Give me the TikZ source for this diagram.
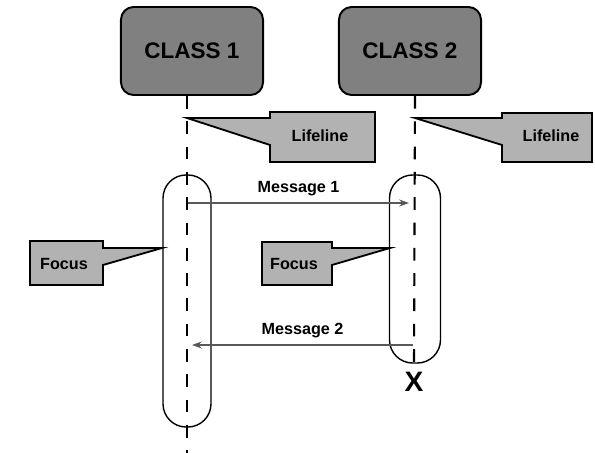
\documentclass[tikz,border=0pt]{standalone}
\usepackage{fontspec}
\setmainfont{Liberation Sans}
\usetikzlibrary{arrows.meta}

\begin{document}
\begin{tikzpicture}[>=Stealth, x=0.025cm, y=-0.025cm,
    classbox/.style={draw, line width=1.4pt, fill=black!50, rounded corners=9pt, minimum width=3.55cm, minimum height=2.2cm, font=\fontsize{16}{18}\selectfont\bfseries},
    focusbar/.style={draw, line width=1pt, rounded corners=0.58cm},
    lifeline/.style={line width=1.5pt, dash pattern=on 9pt off 9pt},
    callout/.style={draw, line width=1.3pt, fill=black!30, line join=miter},
    tag/.style={font=\fontsize{11.5}{13}\selectfont\bfseries},
    msg/.style={-{Stealth[length=7pt, width=5pt]}, draw=black!65, line width=0.8pt}]
    \useasboundingbox (0,0) rectangle (595,453);
    \node [classbox] (classA) at (192, 51) {CLASS 1};
    \node [classbox] (classB) at (410, 51) {CLASS 2};
    \node [focusbar, minimum width=1.2cm, minimum height=6.3cm] (focusA) at (187, 301) {};
    \node [focusbar, minimum width=1.275cm, minimum height=4.7cm] (focusB) at (415, 269) {};
    \node [font=\fontsize{20}{20}\selectfont\bfseries] (stop) at (414, 382) {X};
    \coordinate (endA) at (187, 453);
    % lifelines
    \draw [lifeline] (focusA |- classA.south) -- (endA);
    \draw [lifeline] (focusB |- classB.south) -- (stop.north);
    % messages
    \coordinate (m1a) at (188, 203);
    \coordinate (m1b) at (409, 203);
    \coordinate (m2a) at (413, 345);
    \coordinate (m2b) at (192, 345);
    \draw [msg] (m1a) -- node [tag, above=1pt] {Message 1} (m1b);
    \draw [msg] (m2a) -- node [tag, above=1pt] {Message 2} (m2b);
    % callouts
    \filldraw [callout] (187, 118) -- (270, 118) -- (270, 112) -- (375, 112) -- (375, 162) -- (270, 162) -- (270, 145) -- cycle;
    \filldraw [callout] (415, 118) -- (502, 118) -- (502, 113) -- (592, 113) -- (592, 162) -- (502, 162) -- (502, 145) -- cycle;
    \filldraw [callout] (30, 241) -- (103, 241) -- (103, 248) -- (162, 248) -- (103, 265) -- (103, 285) -- (30, 285) -- cycle;
    \filldraw [callout] (262, 242) -- (332, 242) -- (332, 248) -- (390, 248) -- (332, 265) -- (332, 285) -- (262, 285) -- cycle;
    \node [tag] (lifeA) at (320, 136) {Lifeline};
    \node [tag] (lifeB) at (551, 136) {Lifeline};
    \node [tag] (focA) at (64, 264) {Focus};
    \node [tag] (focB) at (294, 264) {Focus};
\end{tikzpicture}
\end{document}
